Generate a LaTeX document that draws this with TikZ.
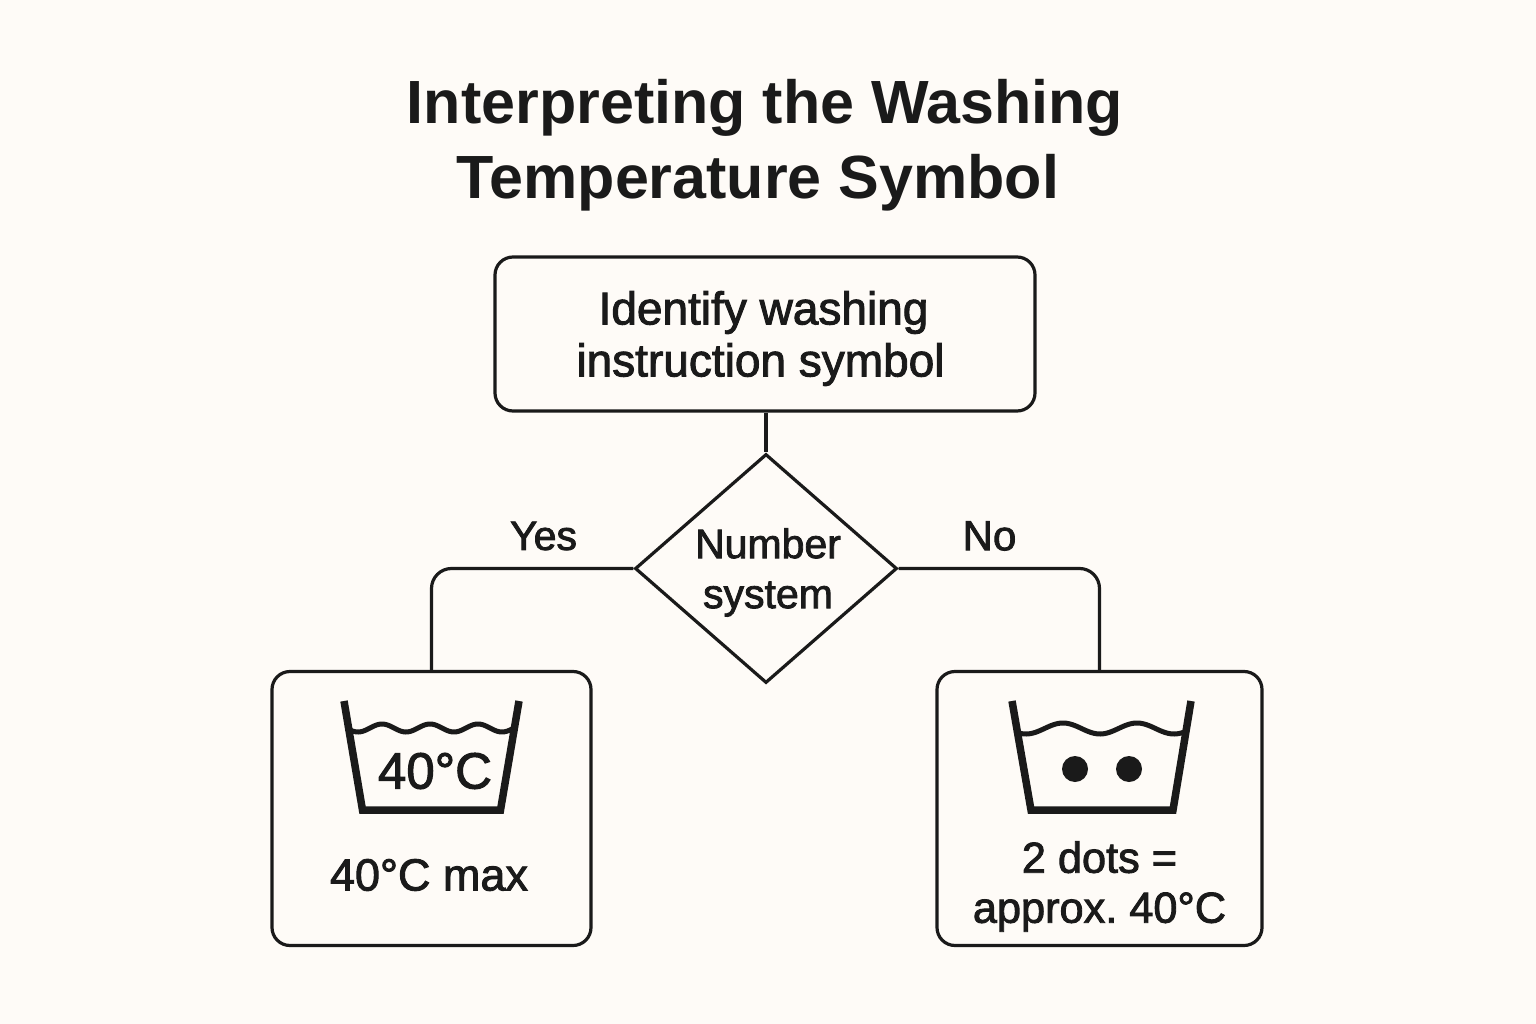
\documentclass[tikz,border=0pt]{standalone}
\usepackage{fontspec}
\usetikzlibrary{shapes.geometric}
\setmainfont{Liberation Sans}
\newfontfamily\medfont[FakeBold=2]{Liberation Sans}
\newfontfamily\titlefont{Liberation Sans Bold}
\definecolor{ink}{HTML}{1A1A1A}
\definecolor{paper}{HTML}{FEFBF7}
\tikzset{
  box/.style={draw=ink,line width=3.2pt,rounded corners=18pt,inner sep=0pt,align=center,text=ink},
  link/.style={draw=ink,line width=3.2pt,rounded corners=20pt},
  lbl/.style={text=ink,inner sep=0pt,align=center},
  tub/.style={draw=ink,line width=7.5pt,miter limit=10,line join=miter},
  wave/.style={draw=ink,line width=5pt},
}
\begin{document}
\begin{tikzpicture}[x=1pt,y=-1pt]
\fill[paper] (0,0) rectangle (1536,1024);
\useasboundingbox (0,0) rectangle (1536,1024);
% title
\node[lbl,font=\titlefont\fontsize{61}{75}\selectfont] (title) at (765,145.5) {Interpreting the Washing\\Temperature Symbol\kern 14pt};
% nodes
\node[box,minimum width=540pt,minimum height=154pt,font=\medfont\fontsize{46}{52}\selectfont] (start) at (765,334) {\raisebox{-4.5pt}[\height][\depth]{Identify washing\kern 3pt}\\\raisebox{-4.5pt}[\height][\depth]{instruction symbol\kern 9pt}};
\node[diamond,draw=ink,line width=3.2pt,inner sep=0pt,minimum width=262pt,minimum height=229pt] (dec) at (766,568.5) {};
\node[lbl,font=\medfont\fontsize{41}{50}\selectfont] (dectext) at (768,572.5) {Number\\system};
\node[box,minimum width=319pt,minimum height=274pt] (left) at (431.5,808.5) {};
\node[box,minimum width=325pt,minimum height=274pt] (right) at (1099.5,808.5) {};
% connectors
\draw[link] (dec.north |- start.south) -- (dec.north);
\draw[link] (dec.west) -| (left.north);
\draw[link] (dec.east) -| (right.north);
\node[lbl,font=\medfont\fontsize{41}{49}\selectfont] (yes) at (543.5,536) {Yes};
\node[lbl,font=\medfont\fontsize{42}{49}\selectfont] (no) at (989.5,536) {No};
% left symbol
\draw[wave] plot[domain=350:513,samples=80,smooth] (\x,{728-4*cos(7.5*(\x-382))});
\draw[tub] (344,701) -- (362.5,810) -- (500.5,810) -- (519,701);
\node[lbl,font=\medfont\fontsize{51}{55}\selectfont] (tubtext) at (435,771) {40°C};
\node[lbl,font=\medfont\fontsize{45}{50}\selectfont] (lefttext) at (429,875) {40°C max};
% right symbol
\draw[wave] plot[domain=1018:1185,samples=80,smooth] (\x,{728.5-5.5*cos(4.865*(\x-1063))});
\draw[tub] (1012,701) -- (1031,810) -- (1173,810) -- (1191,701);
\fill[ink] (1075,769) circle (13);
\fill[ink] (1129,769) circle (13);
\node[lbl,font=\medfont\fontsize{43.3}{50}\selectfont] (righttext) at (1099.5,886.5) {2 dots =\\approx.\kern-4pt{} 40°C};
\end{tikzpicture}
\end{document}
